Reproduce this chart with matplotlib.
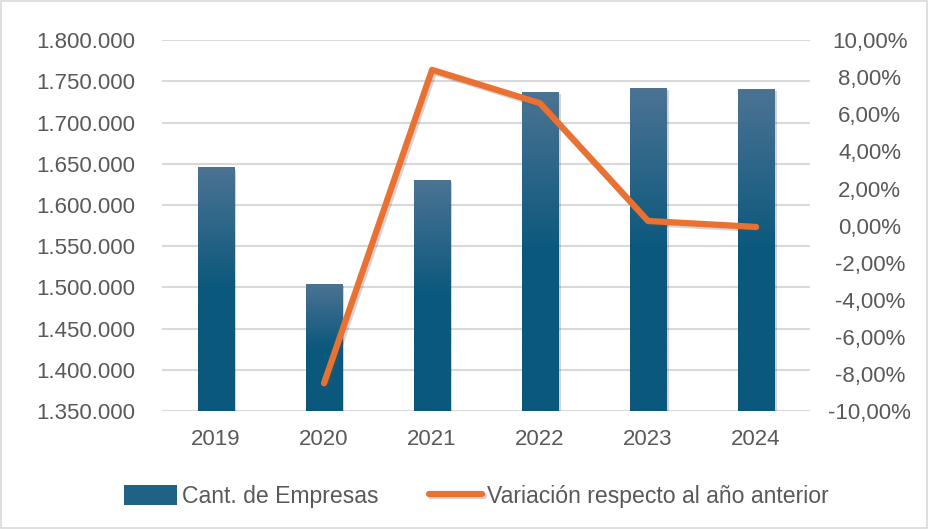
import numpy as np
from matplotlib import pyplot as plt
from matplotlib import patheffects as pe
from matplotlib.colors import LinearSegmentedColormap
from matplotlib.patches import Rectangle
from matplotlib.ticker import FuncFormatter

years = ['2019', '2020', '2021', '2022', '2023', '2024']
empresas = [1645000, 1504000, 1630000, 1737000, 1741800, 1740500]
variacion = [np.nan, -8.5, 8.4, 6.6, 0.25, -0.07]

left_ticks = [1350000, 1400000, 1450000, 1500000, 1550000, 1600000, 1650000, 1700000, 1750000, 1800000]
right_ticks = [-10, -8, -6, -4, -2, 0, 2, 4, 6, 8, 10]

TEXT = '#595959'
GRID = '#d9d9d9'
ORANGE = '#e97132'
BAR_TOP = '#4b7393'
BAR_BOTTOM = '#0b587d'
FS = 16

plt.rcParams['font.family'] = ['Liberation Sans', 'DejaVu Sans']


def es_number(v, _=None):
    return f'{int(v):,}'.replace(',', '.')


def es_pct(v, _=None):
    return f'{v:.2f}%'.replace('.', ',')


fig = plt.figure(figsize=(9.29, 5.29), dpi=100)
ax = fig.add_axes([0.1744, 0.223, 0.6976, 0.701])
x = np.arange(len(years))
width = 0.34

ax.bar(x, empresas, width=width, color=BAR_BOTTOM, zorder=2,
       path_effects=[pe.SimplePatchShadow(offset=(1.5, -1.5), alpha=0.25, shadow_rgbFace='#555555'),
                     pe.Normal()])
cmap = LinearSegmentedColormap.from_list('bar', [BAR_BOTTOM, BAR_BOTTOM, BAR_TOP])
grad = np.linspace(0, 1, 256).reshape(-1, 1)
for xi, v in zip(x, empresas):
    ax.imshow(grad, cmap=cmap, origin='lower', aspect='auto', zorder=3,
              extent=(xi - width / 2, xi + width / 2, left_ticks[0], v))

ax.set_xlim(-0.5, len(years) - 0.5)
ax.set_ylim(left_ticks[0], left_ticks[-1])
ax.set_yticks(left_ticks)
ax.yaxis.set_major_formatter(FuncFormatter(es_number))
ax.set_xticks(x)
ax.set_xticklabels(years)
ax.grid(axis='y', color=GRID, linewidth=1.5, zorder=0)
ax.set_axisbelow(True)
for s in ax.spines.values():
    s.set_visible(False)
ax.tick_params(axis='both', length=0, labelsize=FS, colors=TEXT)
ax.tick_params(axis='y', pad=19)
ax.tick_params(axis='x', pad=13)

ax2 = ax.twinx()
line, = ax2.plot(x, variacion, color=ORANGE, linewidth=4.5, solid_capstyle='round',
                 solid_joinstyle='round', zorder=5,
                 path_effects=[pe.SimpleLineShadow(offset=(1.5, -1.5), alpha=0.25, shadow_color='#555555'),
                               pe.Normal()])
ax2.set_ylim(right_ticks[0], right_ticks[-1])
ax2.set_yticks(right_ticks)
ax2.yaxis.set_major_formatter(FuncFormatter(es_pct))
for s in ax2.spines.values():
    s.set_visible(False)
ax2.tick_params(axis='y', length=0, labelsize=FS, colors=TEXT, pad=43)
for lbl in ax2.get_yticklabels():
    lbl.set_horizontalalignment('center')

handles = [Rectangle((0, 0), 1, 1, facecolor='#1f6286'), line]
labels = ['Cant. de Empresas', 'Variación respecto al año anterior']
fig.legend(handles, labels, loc='center', bbox_to_anchor=(0.513, 0.062), ncol=2, frameon=False,
           fontsize=16.6, labelcolor=TEXT, handlelength=2.3, handleheight=1.0,
           handletextpad=0.2, columnspacing=2.2)

fig.patches.append(Rectangle((0.001, 0.002), 0.997, 0.996, transform=fig.transFigure,
                             fill=False, edgecolor=GRID, linewidth=1.2))

fig.savefig('out.png', dpi=100)
